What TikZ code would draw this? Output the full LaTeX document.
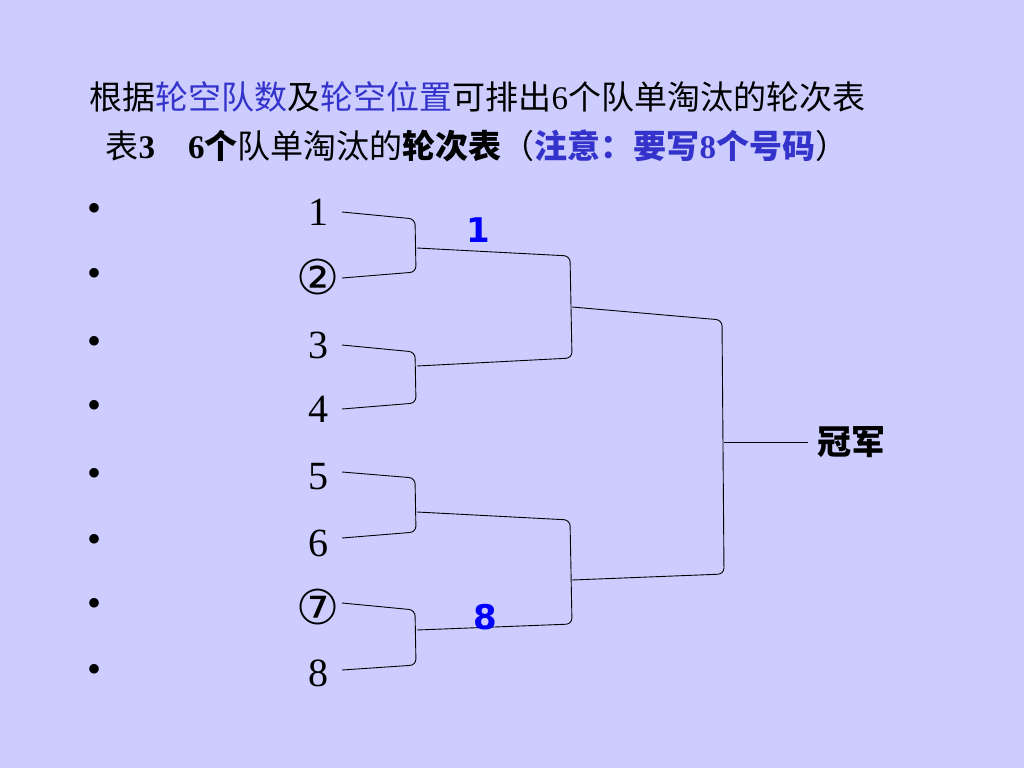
\documentclass[tikz,border=0pt]{standalone}
\usepackage{fontspec}
\setmainfont{Liberation Serif}
\newfontfamily\cjk{Noto Sans CJK SC}
\newfontfamily\circfont{DejaVu Sans}
\usetikzlibrary{positioning}
\definecolor{slidebg}{RGB}{204,204,255}
\definecolor{hiblue}{RGB}{51,51,204}

\tikzset{
    team/.style={font=\fontsize{40}{40}\selectfont, anchor=center},
    circteam/.style={font=\fontsize{48}{48}\selectfont\circfont, anchor=center},
    dot/.style={font=\fontsize{40}{40}\selectfont},
    winner/.style={font=\fontsize{34}{34}\selectfont\circfont\bfseries, text=blue},
    myline/.style={line width=0.9pt, rounded corners=6pt}
}

\begin{document}
\begin{tikzpicture}[x=1pt, y=-1pt]

\fill[slidebg] (0,0) rectangle (1024,768);
\useasboundingbox (0,0) rectangle (1024,768);

%title
\node[anchor=west, font=\fontsize{33}{33}\selectfont] (title) at (86,97)
  {\cjk 根据\textcolor{hiblue}{轮空队数}及\textcolor{hiblue}{轮空位置}可排出\rmfamily 6\cjk 个队单淘汰的轮次表};
\node[anchor=west, font=\fontsize{33}{33}\selectfont] (sub) at (102,146)
  {\cjk 表\rmfamily\bfseries 3\quad 6\cjk\bfseries 个\mdseries 队单淘汰的\bfseries 轮次表\mdseries （\textcolor{hiblue}{\bfseries 注意：要写\rmfamily 8\cjk 个号码}）};

%teams
\foreach \t/\y in {1/212, 3/345, 4/409, 5/477, 6/543, 8/673} {
  \node[team] (t\t) at (318,\y) {\t};
}
\node[circteam] (t2) at (318,277) {②};
\node[circteam] (t7) at (318,607) {⑦};
\foreach \y in {212,277,345,409,477,543,607,673} {
  \node[dot] at (95,\y) {•};
}

%round 1
\draw[myline] (342,212) -- (415,219) -- (416,272) -- (342,278);
\draw[myline] (342,345) -- (415,352) -- (416,403) -- (342,409);
\draw[myline] (342,472) -- (415,478) -- (416,532) -- (342,538);
\draw[myline] (342,603) -- (415,610) -- (416,665) -- (342,670);

%round 2
\draw[myline] (417,248) -- (570,256) -- (572,358) -- (417,366);
\draw[myline] (417,512) -- (570,520) -- (572,624) -- (417,630);

%final
\draw[myline] (572,307) -- (722,320) -- (724,574) -- (572,580);
\draw[line width=0.9pt] (724,442) -- (808,442);
\node[anchor=west, font=\fontsize{34}{34}\selectfont\cjk\bfseries] (champ) at (814,442) {冠军};

%byes
\node[winner] (w1) at (478,230) {1};
\node[winner] (w8) at (485,617) {8};

\end{tikzpicture}
\end{document}
